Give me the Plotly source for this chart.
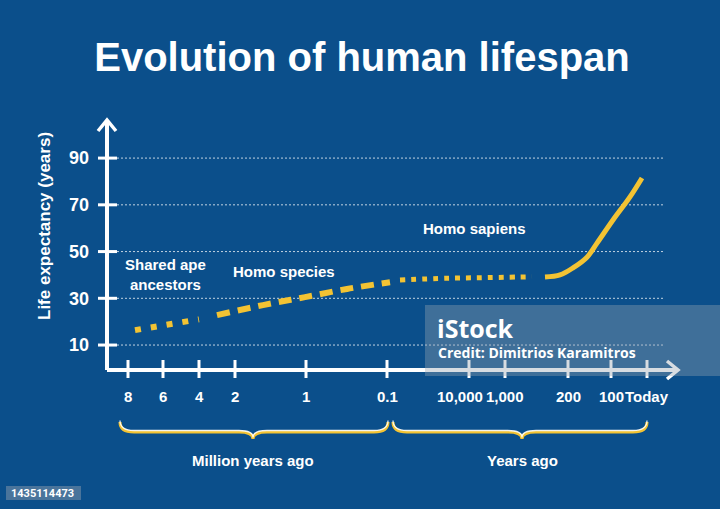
import plotly.graph_objects as go

# ---------------- data ----------------
# horizontal axis is a non-linear timeline; tick_pos are the axis units of each label
tick_labels = ["8", "6", "4", "2", "1", "0.1", "10,000", "1,000", "200", "100", "Today"]
tick_pos = [21, 56, 92, 128, 199, 280, 362, 398, 461, 504, 540]
x_max = 571

y_ticks = [10, 30, 50, 70, 90]

# Shared ape ancestors (dotted)
ape_x = [28, 45, 60, 76, 92]
ape_y = [16.4, 17.7, 19.0, 19.8, 21.0]
# Homo species (dashed)
homo_x = [110, 156, 198, 240, 283]
homo_y = [22.8, 27.1, 30.5, 34.0, 36.9]
# Homo sapiens (fine dots)
sap_x = [293, 340, 373, 425]
sap_y = [37.8, 38.6, 38.8, 39.2]
# Modern era (solid)
mod_x = [438, 453, 466, 480, 490, 506, 523, 535]
mod_y = [39.1, 40.0, 43.0, 47.6, 53.6, 63.5, 73.4, 81.5]

groups = [("Million years ago", 13, 146, 281), ("Years ago", 286, 415, 540)]

# ---------------- layout helpers ----------------
W_FIG, H_FIG = 720, 509
L, R, T, B = 107, 42, 120, 139
PW, PH = W_FIG - L - R, H_FIG - T - B
Y0, Y1 = -0.68, 106.3

def px_x(p):
    return (p - L) / PW

def px_y(p):
    return (H_FIG - B - p) / PH

BG = "#0b4f8b"
YEL = "#f3c333"
FONT = "Liberation Sans, Arial, sans-serif"

fig = go.Figure()
fig.add_trace(go.Scatter(x=ape_x, y=ape_y, mode="lines", cliponaxis=False,
                         line=dict(color=YEL, width=6, dash="6px,10px")))
fig.add_trace(go.Scatter(x=homo_x, y=homo_y, mode="lines", cliponaxis=False,
                         line=dict(color=YEL, width=6, dash="13px,8px", shape="spline")))
fig.add_trace(go.Scatter(x=sap_x, y=sap_y, mode="lines", cliponaxis=False,
                         line=dict(color=YEL, width=5, dash="5px,6px", shape="spline")))
fig.add_trace(go.Scatter(x=mod_x, y=mod_y, mode="lines", cliponaxis=False,
                         line=dict(color=YEL, width=5, shape="spline")))

shapes = []
# dotted gridlines
for v in y_ticks:
    shapes.append(dict(type="line", xref="paper", yref="y", x0=px_x(117), x1=px_x(665),
                       y0=v, y1=v, line=dict(color="rgba(255,255,255,0.75)", width=1, dash="2px,2px"),
                       layer="below"))
# axis lines
shapes.append(dict(type="line", xref="paper", yref="paper", x0=0, x1=1, y0=0, y1=0,
                   line=dict(color="white", width=4)))
shapes.append(dict(type="line", xref="paper", yref="paper", x0=0, x1=0, y0=0, y1=1,
                   line=dict(color="white", width=4)))
# arrow heads
shapes.append(dict(type="path", xref="paper", yref="paper", xsizemode="pixel", ysizemode="pixel",
                   xanchor=0, yanchor=1, path="M-9,-11 L0,0 L9,-11",
                   line=dict(color="white", width=3.5)))
shapes.append(dict(type="path", xref="paper", yref="paper", xsizemode="pixel", ysizemode="pixel",
                   xanchor=1, yanchor=0, path="M-11,9 L0,0 L-11,-9",
                   line=dict(color="white", width=3.5)))
# y tick marks
for v in y_ticks:
    shapes.append(dict(type="line", xref="paper", yref="y", xsizemode="pixel", xanchor=0,
                       x0=-9, x1=10, y0=v, y1=v, line=dict(color="white", width=3)))
# x tick marks
for p in tick_pos:
    shapes.append(dict(type="line", xref="x", yref="paper", ysizemode="pixel", yanchor=0,
                       x0=p, x1=p, y0=-8, y1=10, line=dict(color="white", width=3)))
# braces
for _, a, m, b in groups:
    def brace(off):
        return (f"M{a},{-52+off} Q{a},{-62+off} {a+14},{-62+off} L{m-14},{-62+off} "
                f"Q{m},{-62+off} {m},{-69+off} Q{m},{-62+off} {m+14},{-62+off} "
                f"L{b-14},{-62+off} Q{b},{-62+off} {b},{-52+off}")
    shapes.append(dict(type="path", xref="x", yref="paper", ysizemode="pixel", yanchor=0,
                       path=brace(0), line=dict(color=YEL, width=3)))
    shapes.append(dict(type="path", xref="x", yref="paper", ysizemode="pixel", yanchor=0,
                       path=brace(1.5), line=dict(color="rgba(255,255,255,0.9)", width=1.3)))
# watermark panels
shapes.append(dict(type="rect", xref="paper", yref="paper", x0=px_x(425), x1=px_x(720),
                   y0=px_y(376), y1=px_y(305), fillcolor="rgba(150,162,175,0.38)",
                   line=dict(width=0), layer="above"))
shapes.append(dict(type="rect", xref="paper", yref="paper", x0=px_x(6), x1=px_x(81),
                   y0=px_y(500), y1=px_y(486), fillcolor="rgba(150,162,175,0.45)",
                   line=dict(width=0), layer="above"))

ann = []
wf = dict(family=FONT, color="white", weight="bold")
for lab, p in zip(tick_labels, tick_pos):
    ann.append(dict(x=p, xref="x", y=px_y(396), yref="paper", text=lab, showarrow=False,
                    xanchor="center", yanchor="middle", xshift=-9 if lab == "10,000" else 0,
                    font=dict(size=15, **wf)))
for name, a, m, b in groups:
    ann.append(dict(x=m, xref="x", y=px_y(461), yref="paper", text=name, showarrow=False,
                    xanchor="center", yanchor="middle", font=dict(size=15, **wf)))
ann.append(dict(x=px_x(44), xref="paper", y=px_y(226), yref="paper", text="Life expectancy (years)",
                textangle=-90, showarrow=False, xanchor="center", yanchor="middle",
                font=dict(size=17, **wf)))
ann.append(dict(x=px_x(165), xref="paper", y=px_y(274), yref="paper", text="Shared ape<br>ancestors",
                showarrow=False, xanchor="center", yanchor="middle", font=dict(size=15, **wf)))
ann.append(dict(x=px_x(284), xref="paper", y=px_y(271), yref="paper", text="Homo species",
                showarrow=False, xanchor="center", yanchor="middle", font=dict(size=15, **wf)))
ann.append(dict(x=px_x(474), xref="paper", y=px_y(228), yref="paper", text="Homo sapiens",
                showarrow=False, xanchor="center", yanchor="middle", font=dict(size=15, **wf)))
ann.append(dict(x=px_x(435), xref="paper", y=px_y(328), yref="paper", text="iStock",
                showarrow=False, xanchor="left", yanchor="middle",
                font=dict(size=25, family="Open Sans, sans-serif", color="white", weight="bold")))
ann.append(dict(x=px_x(436), xref="paper", y=px_y(352), yref="paper", text="Credit: Dimitrios Karamitros",
                showarrow=False, xanchor="left", yanchor="middle",
                font=dict(size=14, family="Open Sans, sans-serif", color="white", weight="bold")))
ann.append(dict(x=px_x(9), xref="paper", y=px_y(493), yref="paper", text="1435114473",
                showarrow=False, xanchor="left", yanchor="middle",
                font=dict(size=11, family="Roboto, sans-serif", color="white", weight="bold")))

fig.update_layout(
    width=W_FIG, height=H_FIG,
    margin=dict(l=L, r=R, t=T, b=B),
    paper_bgcolor=BG, plot_bgcolor=BG,
    showlegend=False,
    title=dict(text="Evolution of human lifespan", x=362 / W_FIG, y=1 - 57 / H_FIG,
               xanchor="center", yanchor="middle",
               font=dict(size=40, family=FONT, color="white", weight="bold")),
    xaxis=dict(range=[0, x_max], showgrid=False, zeroline=False, showline=False,
               showticklabels=False, ticks=""),
    yaxis=dict(range=[Y0, Y1], showgrid=False, zeroline=False, showline=False,
               tickvals=y_ticks, ticktext=[str(v) for v in y_ticks], ticks="",
               ticklabelstandoff=17, tickfont=dict(size=18, **wf)),
    shapes=shapes,
    annotations=ann,
)
fig.write_html("out.html")
